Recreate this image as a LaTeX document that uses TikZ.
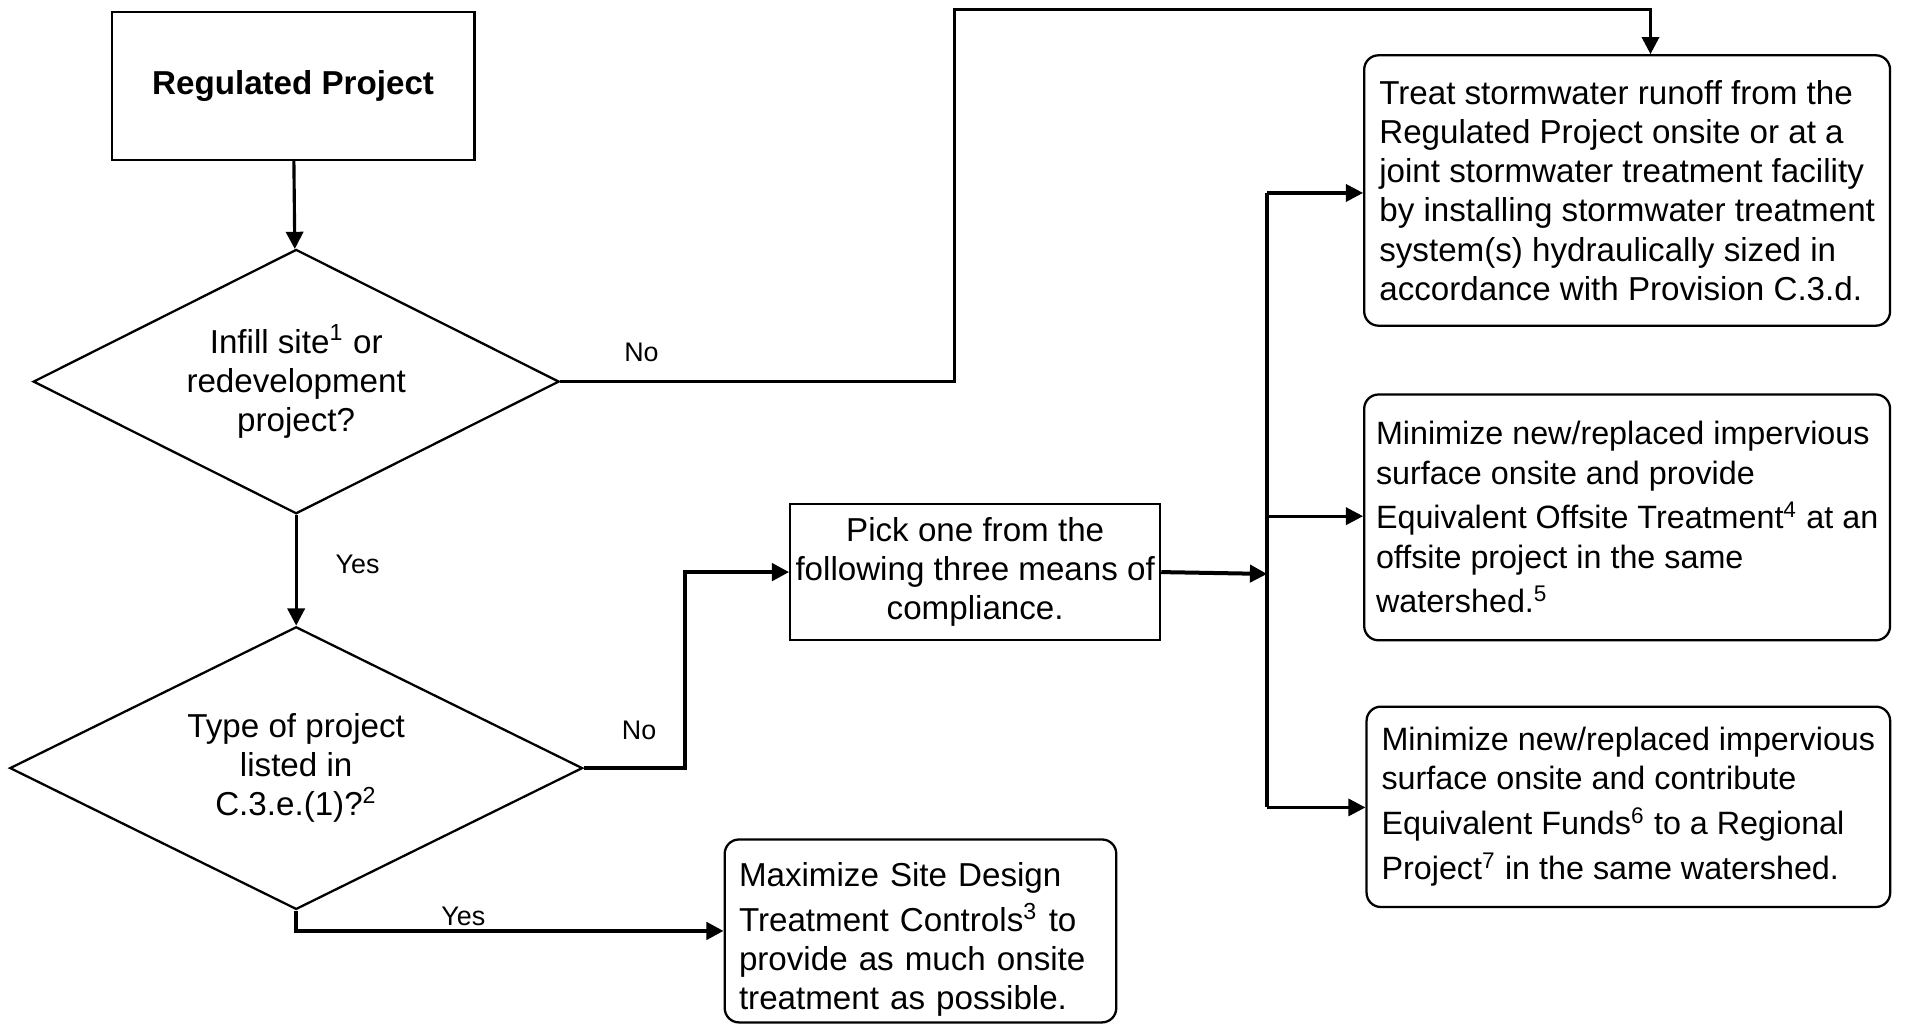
\documentclass[tikz,border=0pt]{standalone}
\usepackage{fontspec}
\setmainfont{Liberation Sans}
\usetikzlibrary{shapes.geometric,calc,positioning,arrows.meta}

\begin{document}
\begin{tikzpicture}[x=0.43pt,y=-0.43pt,
    every node/.style={font=\fontsize{11.6}{13.7}\selectfont},
    plainbox/.style={draw, line width=0.8pt, inner sep=0pt, align=center},
    roundbox/.style={draw, line width=0.8pt, rounded corners=5pt, inner xsep=4pt, inner ysep=0pt, align=left},
    narrowbox/.style={roundbox, font=\fontsize{11.3}{13.7}\selectfont},
    decision/.style={draw, diamond, aspect=2, line width=0.8pt, inner sep=0pt, align=center},
    link/.style={line width=1.1pt, -{Triangle[length=6pt,width=6pt]}},
    wire/.style={line width=1.1pt},
    lbl/.style={font=\fontsize{9.4}{11}\selectfont}]

      % Frame
      \useasboundingbox (0,0) rectangle (1568,839.8);

      % Points
      \coordinate (nobend) at (777,8);
      \coordinate (nocorner) at (1343,8);
      \coordinate (pickbend) at (557,625);
      \coordinate (bustop) at (1031,157);
      \coordinate (busbot) at (1031,657);
      \coordinate (busin) at (1031,467);

      % Nodes
      \node[plainbox, minimum width=126.9pt, minimum height=51.6pt, font=\fontsize{11.6}{13.7}\selectfont\bfseries] (regproj) at (238.5,70) {Regulated Project};
      \node[decision, minimum width=184pt, minimum height=92.5pt] (infill) at (241,310.5) {Infill site\textsuperscript{1} or\\redevelopment\\project?};
      \node[decision, minimum width=200.4pt, minimum height=98.9pt] (listed) at (241,625) {Type of project\\listed in\\C.3.e.(1)?\textsuperscript{2}};
      \node[plainbox, minimum width=129.4pt, minimum height=47.7pt] (pick) at (793.5,465.5) {Pick one from the\\following three means of\\compliance.};

      \node[roundbox, minimum width=184pt, minimum height=94.6pt] (treat) at (1324,155) {Treat stormwater runoff from the\\Regulated Project onsite or at a\\joint stormwater treatment facility\\by installing stormwater treatment\\system(s) hydraulically sized in\\accordance with Provision C.3.d.};
      \node[narrowbox, minimum width=184pt, minimum height=86pt] (offsite) at (1324,421) {Minimize new/replaced impervious\\surface onsite and provide\\[2pt]Equivalent Offsite Treatment\textsuperscript{4} at an\\offsite project in the same\\[2pt]watershed.\textsuperscript{5}};
      \node[narrowbox, minimum width=183.2pt, minimum height=70.1pt] (funds) at (1325,656.5) {Minimize new/replaced impervious\\surface onsite and contribute\\[2pt]Equivalent Funds\textsuperscript{6} to a Regional\\[2pt]Project\textsuperscript{7} in the same watershed.};
      \node[roundbox, text width=127pt, inner xsep=5pt, minimum width=136.7pt, minimum height=64pt] (sitedesign) at (749,757.5) {\rule{0pt}{14.5pt}Maximize Site Design\\[2pt]Treatment Controls\textsuperscript{3} to\\provide as much onsite\\treatment as possible.};

      % Labels
      \node[lbl] (no1) at (522,287) {No};
      \node[lbl] (yes1) at (291,459) {Yes};
      \node[lbl] (no2) at (520,594) {No};
      \node[lbl] (yes2) at (377,746) {Yes};

      % Connectors
      \draw[link] (regproj) -- (infill);
      \draw[link] (infill.east) -| (nobend) -- (nocorner) -- (nocorner |- treat.north);
      \draw[link] (infill) -- (listed);
      \draw[link, line width=1.4pt] (listed.east) -- (pickbend) |- (pick.west);
      \draw[link, line width=1.4pt] (pick.east) -- (busin);
      \draw[link, line width=1.4pt] (listed.south) |- (sitedesign.west);

      % Bus to the three means of compliance
      \draw[wire, line width=1.4pt] (bustop) -- (busbot);
      \foreach \y/\target in {157/treat, 420/offsite, 657/funds} {
        \coordinate (tap-\target) at (1031,\y);
        \draw[link] (tap-\target) -- (tap-\target -| \target.west);
      }
    \end{tikzpicture}
\end{document}
